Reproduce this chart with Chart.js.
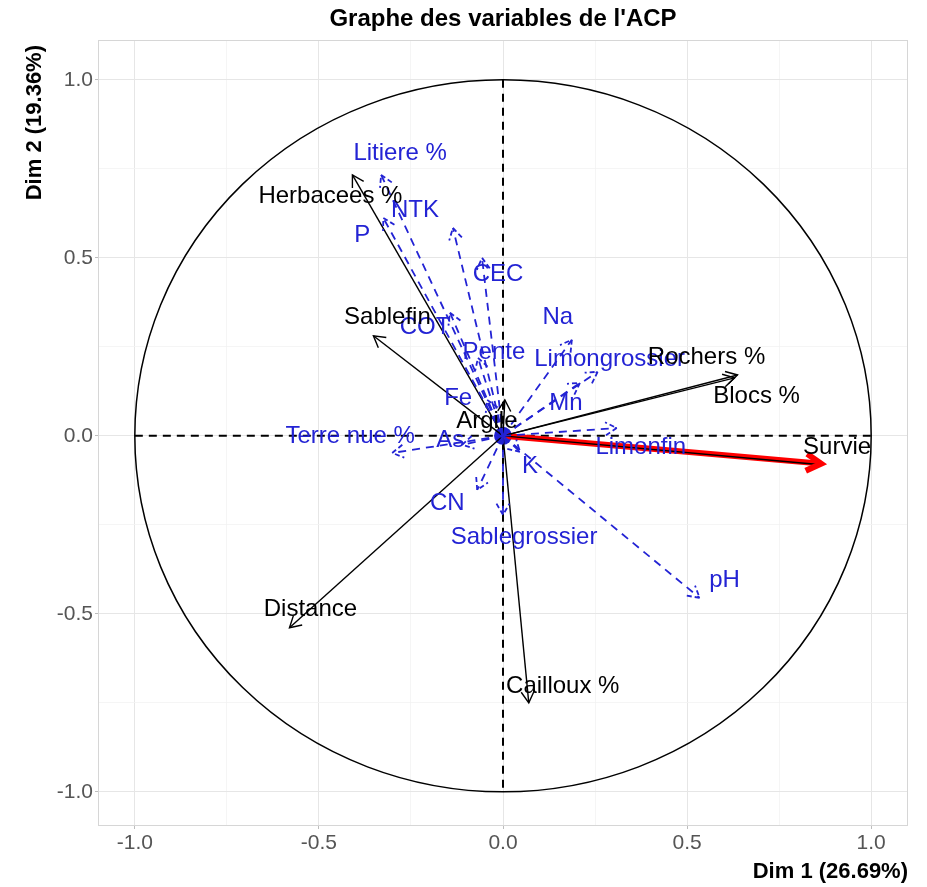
<!DOCTYPE html>
<html>
<head>
<meta charset="utf-8">
<script src="https://cdn.jsdelivr.net/npm/chart.js@4.4.1/dist/chart.umd.min.js"></script>
<style>
html, body { margin: 0; padding: 0; background: #fff; }
#wrap { width: 927px; height: 887px; }
</style>
</head>
<body>
<div id="wrap"><canvas id="acp"></canvas></div>
<script>
// variables en bleu (pointillés)
const blueNames = ['Litiere %', 'P', 'NTK', 'CEC', 'COT', 'Pente', 'Fe', 'Na', 'Limongrossier', 'Mn',
    'Limonfin', 'Terre nue %', 'As', 'CN', 'K', 'Sablegrossier', 'pH'];
const blueDim1 = [-0.331, -0.325, -0.136, -0.057, -0.144, -0.068, -0.043, 0.187, 0.257, 0.209,
    0.309, -0.301, -0.111, -0.070, 0.046, 0.000, 0.534];
const blueDim2 = [0.733, 0.612, 0.584, 0.500, 0.346, 0.219, 0.101, 0.270, 0.180, 0.149,
    0.022, -0.048, -0.025, -0.152, -0.045, -0.222, -0.455];

// variables en noir
const blackNames = ['Herbacees %', 'Sablefin', 'Distance', 'Cailloux %', 'Rochers %', 'Blocs %', 'Argile', 'Survie'];
const blackDim1 = [-0.409, -0.352, -0.580, 0.070, 0.637, 0.629, 0.005, 0.864];
const blackDim2 = [0.733, 0.281, -0.539, -0.750, 0.171, 0.163, 0.101, -0.081];

// variable mise en avant (rouge)
const redNames = ['Survie'];
const redDim1 = [0.864];
const redDim2 = [-0.078];

const tickValues = [-1, -0.75, -0.5, -0.25, 0, 0.25, 0.5, 0.75, 1];

// décalage des étiquettes (px) par rapport à la pointe
const labelNudge = {
    'Litiere %': [19, -22], 'P': [-21, 17], 'NTK': [-38, -18], 'CEC': [16, 17], 'COT': [-25, 15],
    'Pente': [16, -6], 'Fe': [-29, -2], 'Na': [-14, -22], 'Limongrossier': [12, -12], 'Mn': [-14, 21],
    'Limonfin': [24, 19], 'Terre nue %': [-42, -17], 'As': [-12, -4], 'CN': [-30, 13], 'K': [10, 15],
    'Sablegrossier': [21, 22], 'pH': [25, -17],
    'Herbacees %': [-22, 21], 'Sablefin': [14, -18], 'Distance': [21, -18], 'Cailloux %': [34, -16],
    'Rochers %': [-31, -18], 'Blocs %': [22, 19], 'Argile': [-18, 21], 'Survie': [16, -17]
};

const BLUE = '#2323d4';
const FONT = "'Liberation Sans', Arial, sans-serif";

function arrowSets(names, d1, d2, color, width, dash, group) {
    return names.map((n, i) => ({
        label: n,
        data: [{x: 0, y: 0}, {x: d1[i], y: d2[i]}],
        showLine: true,
        borderColor: color,
        borderWidth: width,
        borderDash: dash,
        pointRadius: 0,
        arrow: true,
        group: group
    }));
}

const datasets = [
    ...arrowSets(blueNames, blueDim1, blueDim2, BLUE, 1.8, [8, 6], 'blue'),
    ...arrowSets(blackNames, blackDim1, blackDim2, '#000', 1.4, [], 'black'),
    ...arrowSets(redNames, redDim1, redDim2, '#ff0000', 6, [], 'red'),
    {
        label: 'origine',
        data: [{x: 0, y: 0}],
        pointRadius: 9,
        pointBackgroundColor: BLUE,
        pointBorderWidth: 0
    }
];

const acpPlugin = {
    id: 'acp',
    beforeDatasetsDraw(chart) {
        const {ctx, chartArea: a, scales: {x, y}} = chart;
        const x0 = x.getPixelForValue(0), y0 = y.getPixelForValue(0);
        ctx.save();
        ctx.strokeStyle = '#d6d6d6';
        ctx.lineWidth = 1;
        ctx.strokeRect(a.left + 0.5, a.top + 0.5, a.width - 1, a.height - 1);
        // axes pointillés
        ctx.strokeStyle = '#000';
        ctx.lineWidth = 2;
        ctx.setLineDash([8, 6]);
        ctx.beginPath();
        ctx.moveTo(x.getPixelForValue(-1), y0);
        ctx.lineTo(x.getPixelForValue(1), y0);
        ctx.moveTo(x0, y.getPixelForValue(1));
        ctx.lineTo(x0, y.getPixelForValue(-1));
        ctx.stroke();
        // cercle des corrélations
        ctx.setLineDash([]);
        ctx.lineWidth = 1.5;
        ctx.beginPath();
        ctx.ellipse(x0, y0, x.getPixelForValue(1) - x0, y0 - y.getPixelForValue(1), 0, 0, 2 * Math.PI);
        ctx.stroke();
        ctx.restore();
    },
    afterDatasetsDraw(chart) {
        const {ctx} = chart;
        const tips = {};
        ctx.save();
        chart.data.datasets.forEach((ds, i) => {
            if (!ds.arrow) return;
            const pts = chart.getDatasetMeta(i).data;
            const p0 = pts[0], p1 = pts[1];
            const ang = Math.atan2(p1.y - p0.y, p1.x - p0.x);
            const len = ds.group === 'red' ? 17 : 13;
            ctx.strokeStyle = ds.borderColor;
            ctx.lineWidth = ds.borderWidth;
            ctx.setLineDash(ds.group === 'blue' ? [5, 3] : []);
            ctx.lineJoin = 'miter';
            ctx.beginPath();
            ctx.moveTo(p1.x - len * Math.cos(ang - Math.PI / 6), p1.y - len * Math.sin(ang - Math.PI / 6));
            ctx.lineTo(p1.x, p1.y);
            ctx.lineTo(p1.x - len * Math.cos(ang + Math.PI / 6), p1.y - len * Math.sin(ang + Math.PI / 6));
            ctx.stroke();
            if (ds.group !== 'red') tips[ds.group + ':' + ds.label] = [p1.x, p1.y];
        });
        ctx.setLineDash([]);
        ctx.font = '24px ' + FONT;
        ctx.textAlign = 'center';
        ctx.textBaseline = 'middle';
        ['blue', 'black'].forEach(g => {
            ctx.fillStyle = g === 'blue' ? BLUE : '#000';
            Object.keys(tips).filter(k => k.startsWith(g + ':')).forEach(k => {
                const name = k.slice(g.length + 1);
                const nd = labelNudge[name] || [0, -14];
                ctx.fillText(name, tips[k][0] + nd[0], tips[k][1] + nd[1]);
            });
        });
        ctx.restore();
    },
    afterDraw(chart) {
        const {ctx, chartArea: a} = chart;
        ctx.save();
        ctx.fillStyle = '#000';
        ctx.font = 'bold 24px ' + FONT;
        ctx.textAlign = 'center';
        ctx.textBaseline = 'middle';
        ctx.fillText("Graphe des variables de l'ACP", (a.left + a.right) / 2, 19);
        ctx.font = 'bold 22px ' + FONT;
        ctx.textAlign = 'right';
        ctx.fillText('Dim 1 (26.69%)', a.right, 872);
        ctx.translate(35, a.top + 5);
        ctx.rotate(-Math.PI / 2);
        ctx.fillText('Dim 2 (19.36%)', 0, 0);
        ctx.restore();
    }
};

const isMajor = v => Math.abs(v * 2 - Math.round(v * 2)) < 1e-6;

function axis(min, max, fit) {
    return {
        type: 'linear',
        min: min,
        max: max,
        afterBuildTicks: s => { s.ticks = tickValues.map(v => ({value: v})); },
        afterFit: fit,
        grid: {
            color: c => isMajor(c.tick.value) ? '#e6e6e6' : '#f3f3f3',
            lineWidth: c => isMajor(c.tick.value) ? 1 : 0.8,
            tickColor: c => isMajor(c.tick.value) ? '#bdbdbd' : 'rgba(0,0,0,0)',
            tickLength: 3,
            drawTicks: true
        },
        border: {display: false},
        ticks: {
            autoSkip: false,
            maxRotation: 0,
            padding: 2,
            color: '#555555',
            font: {family: FONT, size: 21},
            callback: v => isMajor(v) ? v.toFixed(1) : ''
        }
    };
}

new Chart(document.getElementById('acp').getContext('2d'), {
    type: 'scatter',
    data: {datasets: datasets},
    options: {
        responsive: true,
        maintainAspectRatio: false,
        animation: false,
        layout: {padding: {top: 40, right: 19, bottom: 0, left: 0}},
        plugins: {legend: {display: false}, tooltip: {enabled: false}},
        scales: {
            x: axis(-1.1, 1.1, s => { s.height = 61; }),
            y: axis(-1.096, 1.112, s => { s.width = 98; })
        }
    },
    plugins: [acpPlugin]
});
</script>
</body>
</html>
